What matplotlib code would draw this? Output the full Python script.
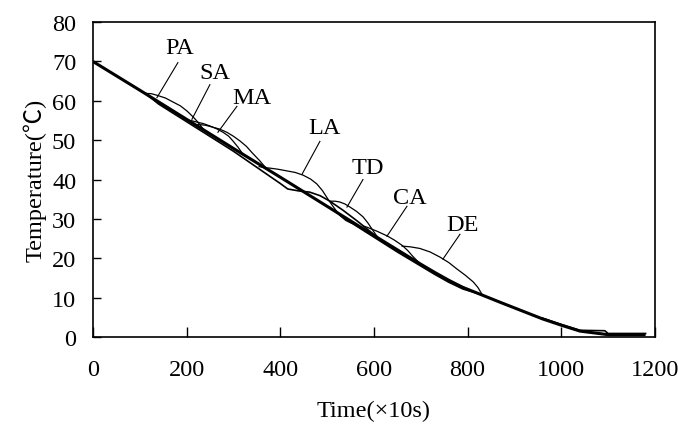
import matplotlib
matplotlib.use("Agg")
import matplotlib.pyplot as plt

# ---- data ----
base_x = [0, 100, 200, 300, 400, 500, 600, 700, 730, 760, 790, 826, 870, 900, 930, 960, 1000, 1040, 1093, 1100, 1180]
base_y = [70, 62.7, 55.3, 47.9, 40.6, 33.2, 25.8, 18.5, 16.4, 14.4, 12.6, 10.9, 8.8, 7.4, 6.0, 4.6, 3.0, 1.5, 0.7, 0.6, 0.6]

tail_x = [960, 1000, 1040, 1093, 1100, 1180]
tail_y = [4.8, 3.2, 1.7, 1.6, 0.9, 0.9]

low1_x = [111, 140, 300, 400, 416, 440, 463, 485, 506, 534, 564, 590, 610]
low1_y = [62.0, 59.2, 47.2, 39.0, 37.6, 37.1, 36.8, 35.9, 34.5, 32.2, 29.5, 27.0, 25.1]

low2_x = [506, 540, 650, 730, 760, 790, 826]
low2_y = [32.9, 29.9, 21.6, 15.9, 13.9, 12.2, 10.9]

curves = {
    "PA": ([111, 125, 137, 155, 171, 187, 201, 214, 224, 235],
           [61.9, 61.8, 61.4, 60.7, 59.7, 58.7, 57.4, 55.9, 54.6, 52.9]),
    "SA": ([203, 212, 222, 236, 250, 264, 278, 290, 299, 310, 320],
           [55.1, 54.9, 54.6, 54.2, 53.6, 52.9, 52.0, 51.0, 49.8, 48.2, 46.5]),
    "MA": ([224, 240, 256, 271, 286, 300, 314, 328, 340, 356, 371],
           [54.0, 53.8, 53.3, 52.8, 52.0, 51.0, 49.8, 48.4, 46.8, 44.8, 42.7]),
    "LA": ([355, 366, 378, 396, 414, 432, 449, 465, 478, 490, 502, 515, 527, 540, 552, 562],
           [43.3, 43.0, 42.9, 42.6, 42.2, 41.8, 41.1, 40.1, 38.9, 37.2, 35.0, 32.8, 30.9, 29.6, 28.9, 28.6]),
    "TD": ([506, 517, 527, 538, 549, 563, 577, 587, 596, 604, 610],
           [34.5, 34.5, 34.3, 33.8, 33.0, 31.9, 30.5, 29.0, 27.4, 26.0, 25.1]),
    "CA": ([577, 585, 606, 628, 644, 660, 672, 683, 692, 700],
           [28.2, 27.9, 26.9, 25.7, 24.6, 23.3, 22.0, 20.5, 19.4, 18.4]),
    "DE": ([660, 678, 698, 720, 741, 760, 777, 795, 812, 822, 830],
           [23.1, 22.9, 22.5, 21.6, 20.3, 18.9, 17.3, 15.7, 14.0, 12.6, 11.0]),
}

labels = ["PA", "SA", "MA", "LA", "TD", "CA", "DE"]
label_x = [185.6, 260.5, 339.5, 495.4, 587.2, 676.9, 790.1]
label_y = [73.5, 67.2, 60.8, 53.2, 43.1, 35.5, 28.6]
lead_x0 = [181.5, 249.8, 307.5, 484.7, 576.6, 670.5, 783.7]
lead_y0 = [69.7, 64.1, 58.6, 49.7, 40.0, 33.2, 26.1]
lead_x1 = [136.7, 211.4, 266.9, 446.3, 542.4, 627.8, 747.4]
lead_y1 = [60.8, 55.3, 52.0, 41.3, 33.0, 25.6, 19.8]

xticks = [0, 200, 400, 600, 800, 1000, 1200]
yticks = [0, 10, 20, 30, 40, 50, 60, 70, 80]

serif = ["Liberation Serif", "DejaVu Serif"]
plt.rcParams["font.family"] = serif

fig = plt.figure(figsize=(6.78, 4.27), dpi=100)
ax = fig.add_axes([0.137, 0.2084, 0.829, 0.7376])

ax.plot(base_x, base_y, color="black", lw=2.2, solid_capstyle="butt", solid_joinstyle="round")
ax.plot(tail_x, tail_y, color="black", lw=1.2)
ax.plot(low1_x, low1_y, color="black", lw=1.2)
ax.plot(low2_x, low2_y, color="black", lw=1.2)
for name, (cx, cy) in curves.items():
    ax.plot(cx, cy, color="black", lw=0.9)

for i, lab in enumerate(labels):
    ax.plot([lead_x0[i], lead_x1[i]], [lead_y0[i], lead_y1[i]], color="black", lw=0.8)
    ax.text(label_x[i], label_y[i], lab, ha="center", va="center", fontsize=17.5)

ax.set_xlim(0, 1200)
ax.set_ylim(0, 80)
ax.set_xticks(xticks)
ax.set_yticks(yticks)
ax.tick_params(axis="x", direction="in", length=7, width=1, labelsize=17.5, pad=16)
ax.tick_params(axis="y", direction="in", length=6, width=1, labelsize=17.5, pad=12)
for s in ax.spines.values():
    s.set_linewidth(1.2)

ax.set_xlabel("Time(×10s)", fontsize=17.5, labelpad=14)
ax.set_ylabel("Temperature(℃)", fontsize=17.5, labelpad=4,
              family=["Liberation Serif", "Noto Sans CJK SC"])

fig.savefig("out.png", dpi=100)
